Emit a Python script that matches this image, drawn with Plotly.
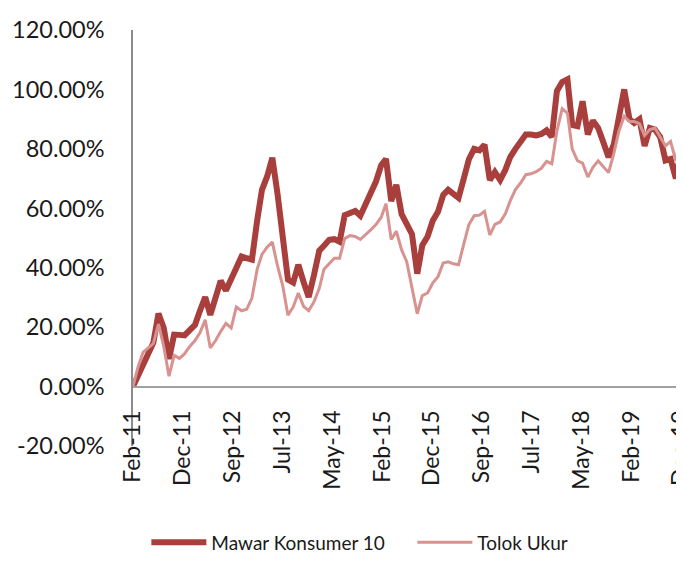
import pandas as pd
import plotly.graph_objects as go

# ---- data (monthly, Feb-2011 .. Dec-2019), cumulative return in % ----
months = pd.date_range("2011-02-01", "2019-12-01", freq="MS")

mawar = [
    0.0, 3.5, 7.2, 10.5, 14.8, 24.6, 19.7, 9.3, 17.5, 17.4,
    17.2, 19.0, 20.8, 25.5, 30.1, 24.1, 30.0, 35.6, 32.3, 36.0,
    40.0, 43.8, 43.2, 42.7, 56.0, 66.2, 70.8, 77.0, 64.7, 50.6,
    36.0, 35.0, 41.0, 35.2, 30.1, 37.5, 45.7, 47.4, 49.4, 49.6,
    48.7, 57.7, 58.5, 59.1, 57.5, 61.5, 65.3, 69.0, 74.5, 76.6,
    62.4, 67.9, 58.0, 54.8, 51.3, 38.0, 47.6, 50.5, 55.8, 58.8,
    64.5, 66.2, 64.8, 63.5, 70.0, 76.5, 80.0, 79.5, 81.4, 69.5,
    72.2, 69.5, 73.0, 77.2, 80.0, 82.8, 84.8, 84.8, 84.5, 85.0,
    86.2, 84.0, 99.5, 102.5, 103.4, 88.0, 87.6, 96.0, 84.8, 89.5,
    87.0, 82.1, 77.2, 81.5, 90.6, 100.0, 90.0, 88.7, 90.0, 81.0,
    87.0, 86.5, 84.0, 76.1, 76.6, 70.0, 79.4,
]

tolok = [
    0.0, 6.3, 11.5, 13.0, 14.5, 21.0, 13.5, 3.5, 10.5, 9.5,
    11.0, 13.5, 15.5, 18.1, 22.5, 13.0, 15.5, 18.5, 21.3, 19.7,
    26.8, 25.5, 26.0, 29.8, 39.5, 44.5, 47.0, 48.6, 40.5, 34.0,
    24.0, 26.8, 31.5, 27.0, 25.5, 28.5, 33.0, 39.5, 41.5, 43.2,
    43.2, 49.8, 50.8, 50.5, 49.5, 51.0, 52.7, 54.5, 57.0, 61.5,
    49.5, 52.3, 46.0, 42.0, 32.9, 24.5, 30.6, 31.5, 34.8, 37.0,
    41.6, 42.0, 41.3, 41.0, 48.0, 54.5, 57.5, 57.7, 59.0, 51.0,
    54.6, 55.4, 58.2, 62.5, 66.3, 68.5, 71.3, 71.6, 72.3, 73.5,
    75.8, 75.0, 86.0, 93.5, 92.0, 80.0, 76.0, 75.2, 70.5, 73.8,
    76.0, 74.0, 72.0, 78.5, 86.0, 91.0, 89.2, 89.2, 88.5, 84.5,
    86.5, 87.0, 84.0, 81.0, 82.5, 76.0, 84.8,
]

tick_labels = ["Feb-11", "Dec-11", "Sep-12", "Jul-13", "May-14", "Feb-15",
               "Dec-15", "Sep-16", "Jul-17", "May-18", "Feb-19", "Dec-19"]
y_ticks = [-20, 0, 20, 40, 60, 80, 100, 120]
y_tick_labels = ["-20.00%", "0.00%", "20.00%", "40.00%", "60.00%",
                 "80.00%", "100.00%", "120.00%"]

series_names = ["Mawar Konsumer 10", "Tolok Ukur"]

# ---- figure ----
start, end = months[0], months[-1]
n_ticks = len(tick_labels)
tickvals = [start + (end - start) * i / (n_ticks - 1) for i in range(n_ticks)]

FONT = "Lato, 'Open Sans', sans-serif"

fig = go.Figure()
fig.add_trace(go.Scatter(
    x=months, y=mawar, mode="lines", name=series_names[0],
    line=dict(color="#A83F3D", width=6),
))
fig.add_trace(go.Scatter(
    x=months, y=tolok, mode="lines", name=series_names[1],
    line=dict(color="#D8928F", width=3),
))

# the page body has an 8px default margin, so the figure is sized to fill
# the remaining visible window area
fig.update_layout(
    width=676, height=554,
    margin=dict(l=125, r=0, t=22, b=106),
    paper_bgcolor="white", plot_bgcolor="white",
    font=dict(family=FONT, color="#1a1a1a"),
    showlegend=True,
    legend=dict(
        orientation="h", x=0.507, xanchor="center", y=-0.232, yanchor="middle",
        font=dict(size=19, family=FONT, color="#1a1a1a"),
        itemwidth=55, entrywidth=196, entrywidthmode="pixels",
        bgcolor="rgba(0,0,0,0)",
    ),
    xaxis=dict(
        type="date",
        range=[start, end + pd.Timedelta(days=18)],
        tickmode="array", tickvals=tickvals, ticktext=tick_labels,
        tickangle=-90, tickfont=dict(size=23, family=FONT, color="#1a1a1a"),
        showgrid=False, zeroline=False,
        showline=True, linecolor="#A0A0A0", linewidth=1.5,
        ticks="", ticklabelstandoff=14, ticklabeloverflow="allow",
        anchor="free", position=20 / 140, automargin=False,
    ),
    yaxis=dict(
        range=[-20, 120],
        tickmode="array", tickvals=y_ticks, ticktext=y_tick_labels,
        tickfont=dict(size=23.5, family=FONT, color="#1a1a1a"),
        showgrid=False, zeroline=False,
        showline=True, linecolor="#8C8C8C", linewidth=1.5,
        ticks="", ticklabelstandoff=22, automargin=False,
    ),
)

fig.write_html("out.html")
